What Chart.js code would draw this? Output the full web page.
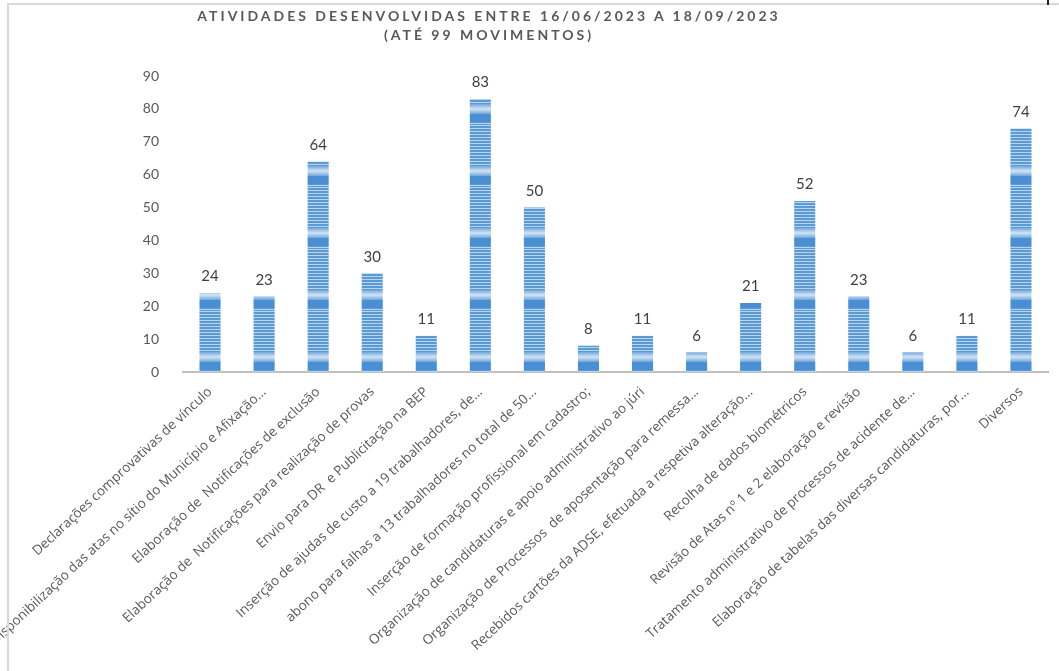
<!DOCTYPE html>
<html lang="pt">

<head>
    <meta charset="UTF-8">
    <title>Atividades desenvolvidas</title>
    <style>
        html, body { margin: 0; padding: 0; background: #fff; }
        .frame {
            position: relative;
            width: 1059px;
            height: 671px;
            overflow: hidden;
        }
        .frame canvas { position: absolute; left: 0; top: 0; }
        .edge-top { position: absolute; left: 7px; top: 3px; width: 1052px; height: 2px; background: #d9d9d9; }
        .edge-left { position: absolute; left: 7px; top: 3px; width: 2px; height: 668px; background: #d9d9d9; }
        .mark { position: absolute; left: 1047px; top: 0; width: 2px; height: 5px; background: #222; }
        .title {
            position: absolute;
            left: 0;
            top: 6px;
            width: 978px;
            text-align: center;
            font-family: Lato, sans-serif;
            font-weight: bold;
            font-size: 14px;
            line-height: 19px;
            letter-spacing: 3px;
            color: #595959;
        }
    </style>
    <script src="https://cdn.jsdelivr.net/npm/chart.js"></script>
</head>

<body>
    <div class="frame">
        <canvas id="myChart" width="1059" height="671"></canvas>
        <div class="edge-top"></div>
        <div class="edge-left"></div>
        <div class="mark"></div>
        <div class="title">ATIVIDADES DESENVOLVIDAS ENTRE 16/06/2023 A 18/09/2023<br>(ATÉ 99 MOVIMENTOS)</div>
    </div>

    <script>
        const categories = [
            'Declarações comprovativas de vínculo',
            'Disponibilização das atas no sítio do Município e Afixação...',
            'Elaboração de  Notificações de exclusão',
            'Elaboração de  Notificações para realização de provas',
            'Envio para DR  e Publicitação na BEP',
            'Inserção de ajudas de custo a 19 trabalhadores, de...',
            'abono para falhas a 13 trabalhadores no total de 50...',
            'Inserção de formação profissional em cadastro;',
            'Organização de candidaturas e apoio administrativo ao júri',
            'Organização de Processos  de aposentação para remessa...',
            'Recebidos cartões da ADSE, efetuada a respetiva alteração...',
            'Recolha de dados biométricos',
            'Revisão de Atas nº 1 e 2 elaboração e revisão',
            'Tratamento administrativo de processos de acidente de...',
            'Elaboração de tabelas das diversas candidaturas, por...',
            'Diversos'
        ];
        const values = [24, 23, 64, 30, 11, 83, 50, 8, 11, 6, 21, 52, 23, 6, 11, 74];
        const yTicks = [0, 10, 20, 30, 40, 50, 60, 70, 80, 90];

        const ctx = document.getElementById('myChart');

        // striped "texture" fill, one tile repeats up the bar
        const TILE = 62;
        function makeTexture() {
            const c = document.createElement('canvas');
            c.width = 8; c.height = TILE;
            const g = c.getContext('2d');
            g.fillStyle = '#5b9bd5';
            g.fillRect(0, 0, 8, TILE);
            g.fillStyle = 'rgba(225,236,248,0.7)';
            for (let y = 1; y < TILE; y += 3) g.fillRect(0, y, 8, 1);
            const grad = g.createLinearGradient(0, 42, 0, 52);
            grad.addColorStop(0, '#6ea7dc');
            grad.addColorStop(0.5, '#d3e4f4');
            grad.addColorStop(1, '#6ea7dc');
            g.fillStyle = grad;
            g.fillRect(0, 42, 8, 10);
            g.fillStyle = '#4a8ed3';
            g.fillRect(0, 52, 8, 8);
            return ctx.getContext('2d').createPattern(c, 'repeat');
        }
        const texture = makeTexture();

        const anchorTexture = {
            id: 'anchorTexture',
            beforeDatasetsDraw(chart) {
                const y0 = chart.scales.y.getPixelForValue(0);
                texture.setTransform(new DOMMatrix().translate(0, y0 % TILE));
            }
        };

        const valueLabels = {
            id: 'valueLabels',
            afterDatasetsDraw(chart) {
                const c = chart.ctx;
                const meta = chart.getDatasetMeta(0);
                c.save();
                c.font = '15px Lato, sans-serif';
                c.fillStyle = '#404040';
                c.textAlign = 'center';
                c.textBaseline = 'bottom';
                meta.data.forEach((bar, i) => {
                    c.fillText(values[i], bar.x, bar.y - 9);
                });
                c.restore();
            }
        };

        new Chart(ctx, {
            type: 'bar',
            data: {
                labels: categories,
                datasets: [{
                    data: values,
                    backgroundColor: texture,
                    borderWidth: 0,
                    barPercentage: 0.39,
                    categoryPercentage: 1
                }]
            },
            options: {
                responsive: false,
                animation: false,
                layout: {
                    padding: { top: 76, right: 11, left: 0, bottom: 0 }
                },
                plugins: {
                    legend: { display: false },
                    title: { display: false },
                    tooltip: { enabled: false }
                },
                scales: {
                    x: {
                        grid: { display: false },
                        border: { display: true, color: '#bfbfbf', width: 2 },
                        ticks: {
                            autoSkip: false,
                            minRotation: 43,
                            maxRotation: 43,
                            padding: 4,
                            color: '#595959',
                            font: { family: 'Open Sans', size: 13.5 }
                        },
                        afterFit(scale) {
                            scale.paddingLeft = 0;
                            scale.paddingRight = 0;
                            scale.height = 299;
                        }
                    },
                    y: {
                        min: yTicks[0],
                        max: yTicks[yTicks.length - 1],
                        grid: { display: false },
                        border: { display: false },
                        ticks: {
                            stepSize: yTicks[1] - yTicks[0],
                            padding: 16,
                            color: '#595959',
                            font: { family: 'Lato', size: 14 }
                        },
                        afterFit(scale) {
                            scale.paddingTop = 0;
                            scale.paddingBottom = 0;
                            scale.width = 183;
                        }
                    }
                }
            },
            plugins: [anchorTexture, valueLabels]
        });
    </script>
</body>

</html>
